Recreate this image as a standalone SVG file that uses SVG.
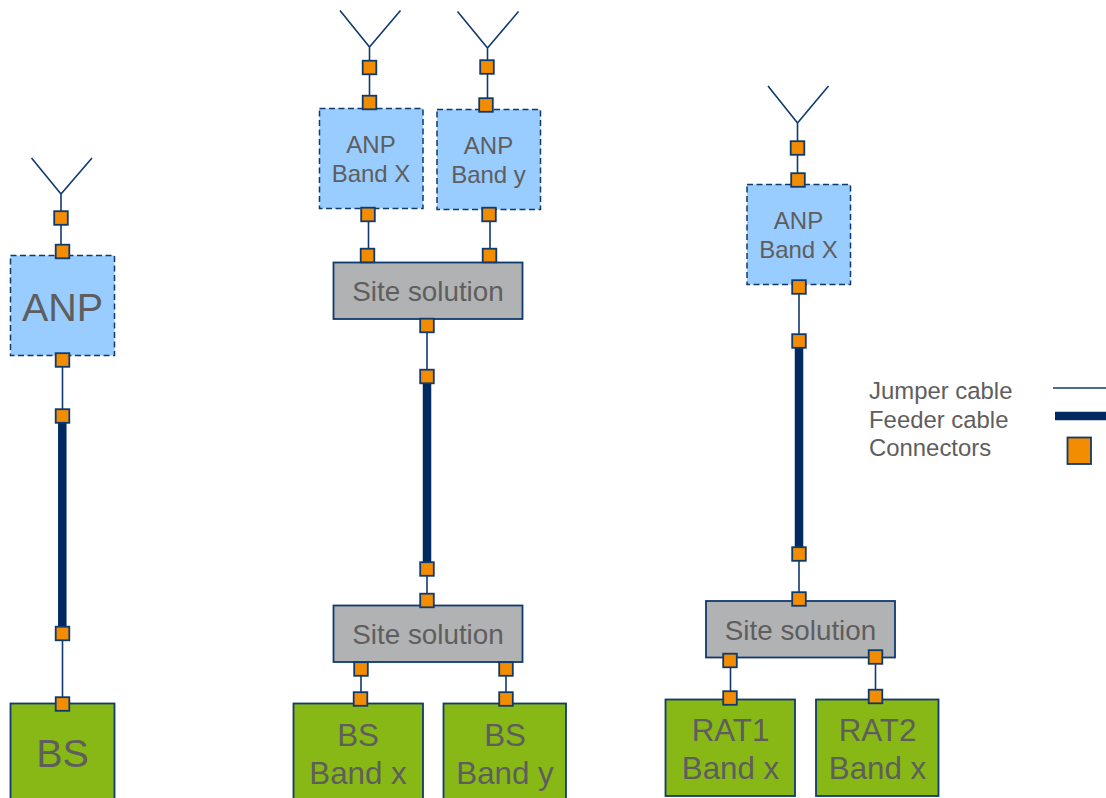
<svg xmlns="http://www.w3.org/2000/svg" width="1106" height="798" viewBox="0 0 1106 798">
<style>
text{font-family:"Liberation Sans",Arial,sans-serif;fill:#5e5e5e;text-anchor:middle}
.anp{fill:#99ccff;stroke:#0f3a6e;stroke-width:1.5;stroke-dasharray:6 3.5}
.site{fill:#b1b2b4;stroke:#0f3a6e;stroke-width:1.8}
.bs{fill:#88b816;stroke:#0f3a6e;stroke-width:1.8}
.c{fill:#f28c00;stroke:#0f3a6e;stroke-width:1.8}
.j{fill:none;stroke:#0f3a6e;stroke-width:1.6}
.f{fill:none;stroke:#002a60;stroke-width:8.5}
.s24{font-size:24px}.s27{font-size:27.8px}.s31{font-size:31.3px}.s39{font-size:39.5px}
.l{font-size:23.9px;text-anchor:start}
</style>
<defs><rect id="k" class="c" x="-6.800" y="-6.800" width="13.600" height="13.600"/></defs>
<g id="connectors">
<path class="j" d="M31.5 158L61 194L92 158M61 194V252M62.5 360V416M62.5 633V704"/>
<path class="f" d="M62.3 420V630"/>
<path class="j" d="M340 10.5L369.5 47L400.5 10.5M369.5 47V102M457.5 11.5L487.5 48L518.5 11.5M487.5 48V105M368.5 214V256M490 214V256M427 325V377M427 569V601M361 669V699M506 669V699"/>
<path class="f" d="M427 380V566"/>
<path class="j" d="M768 86L797.5 123L828.5 86M797.5 123V180M799 287V341M799 554V599M730.5 660V698M875.5 657V697"/>
<path class="f" d="M799 345V550"/>
<path class="j" d="M1053 388H1106" stroke-width="1.4"/>
<path class="f" d="M1055 416H1106"/>
</g>
<g id="anp-left"><rect class="anp" x="10.5" y="255.5" width="104" height="100"/><text class="s39" x="62.5" y="321">ANP</text></g>
<g id="bs-left"><rect class="bs" x="10.5" y="703.5" width="104" height="100"/><text class="s39" x="62.5" y="767">BS</text></g>
<g id="anp-band-x"><rect class="anp" x="319.5" y="108.5" width="103.5" height="100"/><text class="s24" x="371" y="153">ANP</text><text class="s24" x="371" y="182">Band X</text></g>
<g id="anp-band-y"><rect class="anp" x="437" y="109.5" width="103.5" height="100"/><text class="s24" x="488.500" y="154">ANP</text><text class="s24" x="488.500" y="183">Band y</text></g>
<g id="site-top"><rect class="site" x="333.500" y="262.500" width="189" height="56.500"/><text class="s27" x="428" y="301">Site solution</text></g>
<g id="site-bottom"><rect class="site" x="333.500" y="605.500" width="189" height="56.500"/><text class="s27" x="428" y="644">Site solution</text></g>
<g id="bs-band-x"><rect class="bs" x="293.500" y="703.500" width="129.500" height="100"/><text class="s31" x="358" y="746">BS</text><text class="s31" x="358" y="784">Band x</text></g>
<g id="bs-band-y"><rect class="bs" x="443.500" y="703.500" width="122.500" height="100"/><text class="s31" x="505" y="746">BS</text><text class="s31" x="505" y="784">Band y</text></g>
<g id="anp-right"><rect class="anp" x="747" y="184.500" width="103.500" height="100"/><text class="s24" x="798.500" y="229">ANP</text><text class="s24" x="798.500" y="258">Band X</text></g>
<g id="site-right"><rect class="site" x="706" y="601" width="189" height="56.500"/><text class="s27" x="800.500" y="640">Site solution</text></g>
<g id="rat1"><rect class="bs" x="665.500" y="699.500" width="129.500" height="96.500"/><text class="s31" x="730.500" y="741">RAT1</text><text class="s31" x="730.500" y="779">Band x</text></g>
<g id="rat2"><rect class="bs" x="816" y="699.500" width="122.500" height="96.500"/><text class="s31" x="877.500" y="741">RAT2</text><text class="s31" x="877.500" y="779">Band x</text></g>
<g id="connector-blocks">
<use href="#k" x="61" y="218"/><use href="#k" x="62.500" y="251.500"/><use href="#k" x="62.500" y="360"/><use href="#k" x="62.500" y="416"/><use href="#k" x="62.500" y="633.500"/><use href="#k" x="62.500" y="704"/>
<use href="#k" x="369.500" y="67.500"/><use href="#k" x="369.500" y="102.500"/><use href="#k" x="487" y="67"/><use href="#k" x="486" y="105"/><use href="#k" x="368" y="214.500"/><use href="#k" x="367.500" y="255.500"/><use href="#k" x="489" y="214.500"/><use href="#k" x="489.500" y="255.500"/>
<use href="#k" x="427" y="325.500"/><use href="#k" x="427" y="376.500"/><use href="#k" x="427" y="569"/><use href="#k" x="427" y="600.500"/><use href="#k" x="361" y="669"/><use href="#k" x="360.500" y="699"/><use href="#k" x="506" y="669"/><use href="#k" x="506" y="699"/>
<use href="#k" x="797.500" y="148"/><use href="#k" x="798" y="180"/><use href="#k" x="799" y="287"/><use href="#k" x="799" y="341"/><use href="#k" x="799" y="554"/><use href="#k" x="799" y="599"/><use href="#k" x="730" y="660.500"/><use href="#k" x="730" y="698"/><use href="#k" x="875.500" y="657"/><use href="#k" x="875.500" y="696.500"/>
</g>
<g id="legend">
<text class="l" x="869" y="399">Jumper cable</text><text class="l" x="869" y="428">Feeder cable</text><text class="l" x="869" y="456">Connectors</text>
<rect class="c" x="1067.500" y="437.500" width="23.500" height="26.500"/>
</g>
</svg>
